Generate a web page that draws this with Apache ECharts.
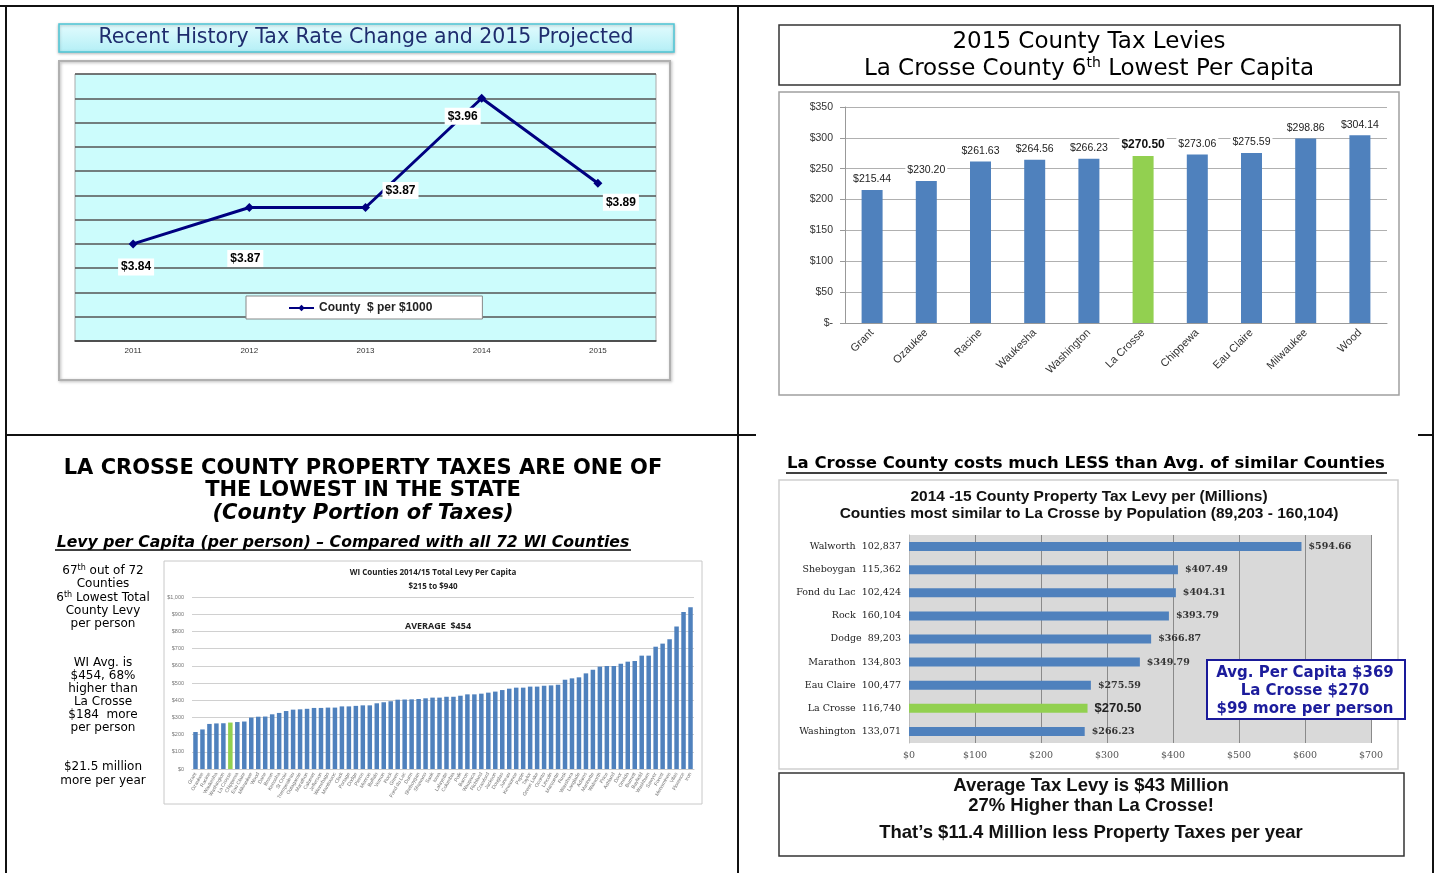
<!DOCTYPE html>
<html>
<head>
<meta charset="utf-8">
<title>La Crosse County tax comparison</title>
<script src="https://cdn.jsdelivr.net/npm/echarts@6/dist/echarts.min.js"></script>
<style>
html, body { margin: 0; padding: 0; background: #fff; }
#main { width: 1439px; height: 873px; }
</style>
</head>
<body>
<div id="main"></div>
<script>
"use strict";

// county $ per $1000, recent history
var rateYears = ["2011", "2012", "2013", "2014", "2015"];
var rateValues = [3.84, 3.87, 3.87, 3.96, 3.89];

// 2015 levies, ten lowest per capita
var lowCounties = ["Grant", "Ozaukee", "Racine", "Waukesha", "Washington", "La Crosse", "Chippewa", "Eau Claire", "Milwaukee", "Wood"];
var lowLevies = [215.44, 230.20, 261.63, 264.56, 266.23, 270.50, 273.06, 275.59, 298.86, 304.14];

// all 72 WI counties, 2014/15 total levy per capita
var wiCounties = ["Grant", "Ozaukee", "Racine", "Waukesha", "Washington", "La Crosse", "Chippewa", "Eau Claire", "Milwaukee", "Wood",
    "Dane", "Brown", "Kenosha", "St Croix", "Trempealeau", "Outagamie", "Marathon", "Calumet", "Jefferson", "Winnebago",
    "Manitowoc", "Clark", "Portage", "Dodge", "Pierce", "Monroe", "Buffalo", "Vernon", "Rock", "Green",
    "Fond du Lac", "Dunn", "Sheboygan", "Shawano", "Sauk", "Iowa", "Lafayette", "Columbia", "Polk", "Barron",
    "Waupaca", "Richland", "Crawford", "Jackson", "Douglas", "Juneau", "Kewaunee", "Pepin", "Taylor", "Green Lake",
    "Oconto", "Lincoln", "Marquette", "Rusk", "Waushara", "Langlade", "Adams", "Marinette", "Walworth", "Price",
    "Ashland", "Door", "Oneida", "Burnett", "Bayfield", "Washburn", "Sawyer", "Forest", "Menominee", "Vilas",
    "Florence", "Iron"];
var wiLevies = [215, 230, 262, 265, 266, 270, 273, 276, 299, 304,
    305, 318, 326, 337, 345, 347, 350, 355, 355, 357,
    357, 364, 364, 367, 370, 370, 382, 388, 394, 403,
    404, 405, 407, 411, 415, 415, 420, 420, 426, 434,
    434, 438, 444, 450, 459, 467, 473, 473, 479, 479,
    484, 486, 490, 519, 527, 533, 556, 577, 595, 599,
    599, 612, 624, 628, 659, 659, 711, 729, 754, 828,
    913, 940];

// counties most similar to La Crosse by population
var similarCounties = ["Walworth", "Sheboygan", "Fond du Lac", "Rock", "Dodge", "Marathon", "Eau Claire", "La Crosse", "Washington"];
var similarPops = ["102,837", "115,362", "102,424", "160,104", "89,203", "134,803", "100,477", "116,740", "133,071"];
var similarLevies = [594.66, 407.49, 404.31, 393.79, 366.87, 349.79, 275.59, 270.50, 266.23];

var BLUE = "#4f81bd";
var GREEN = "#92d050";
var SANS = "Liberation Sans";
var TAHOMA = "DejaVu Sans";
var SERIF = "DejaVu Serif";

function money(v) {
    return "$" + v.toFixed(2);
}

function barData(names, values, hiLabel) {
    return values.map(function (v, i) {
        var item = { value: v, itemStyle: { color: names[i] === "La Crosse" ? GREEN : BLUE } };
        if (names[i] === "La Crosse" && hiLabel) item.label = hiLabel;
        return item;
    });
}

function txt(x, y, text, size, opts) {
    opts = opts || {};
    return {
        type: "text", x: x, y: y, z: opts.z || 20,
        style: {
            text: text,
            fontSize: size,
            fontFamily: opts.family || TAHOMA,
            fontWeight: opts.weight || "normal",
            fontStyle: opts.style || "normal",
            fill: opts.color || "#000",
            align: opts.align || "center",
            verticalAlign: "middle",
            rich: opts.rich
        }
    };
}

function box(x, y, w, h, stroke, lw, fill, z, extra) {
    var s = { fill: fill || "none", stroke: stroke, lineWidth: lw };
    if (extra) for (var k in extra) s[k] = extra[k];
    return { type: "rect", z: z || 1, shape: { x: x, y: y, width: w, height: h }, style: s };
}

function line(x1, y1, x2, y2, color, lw) {
    return { type: "line", z: 30, shape: { x1: x1, y1: y1, x2: x2, y2: y2 }, style: { stroke: color, lineWidth: lw } };
}

var supRich = {
    sup: { fontSize: 8, verticalAlign: "top", padding: [0, 0, 6, 0], fontFamily: TAHOMA }
};
var supRichBig = {
    sup: { fontSize: 14, verticalAlign: "top", padding: [0, 0, 12, 0], fontFamily: TAHOMA }
};

// label offsets for the rate line, relative to each point
var rateOffsets = [[3, 23], [-4, 51], [35, -17], [-19, 18], [23, 19]];

var graphics = [
    // page frame
    line(0, 6, 1434, 6, "#111", 2),
    line(6, 6, 6, 873, "#111", 2),
    line(738, 6, 738, 873, "#111", 2),
    line(6, 435, 756, 435, "#111", 2),
    line(1418, 435, 1434, 435, "#111", 2),
    line(1433, 6, 1433, 873, "#111", 2),

    // top left
    box(59, 24, 615, 28, "#4fc6d6", 1.5, {
        type: "linear", x: 0, y: 0, x2: 0, y2: 1,
        colorStops: [{ offset: 0, color: "#e4fcfe" }, { offset: 1, color: "#b3eff6" }]
    }, 1, { shadowBlur: 3, shadowColor: "rgba(0,0,0,0.25)", shadowOffsetY: 1 }),
    txt(366, 38, "Recent History Tax Rate Change and 2015 Projected", 20.5, { color: "#1f2d6e" }),
    box(59, 61, 611, 319, "#b0b0b0", 2, "none", 1, { shadowBlur: 3, shadowColor: "rgba(0,0,0,0.3)", shadowOffsetX: 1, shadowOffsetY: 1 }),

    // top right
    box(779, 25, 621, 60, "#333", 1.5),
    txt(1089, 42, "2015 County Tax Levies", 23),
    txt(1089, 69, "La Crosse County 6{sup|th} Lowest Per Capita", 23, { rich: supRichBig }),
    box(779, 92, 620, 303, "#a0a0a0", 1.5),

    // bottom left
    txt(363, 469, "LA CROSSE COUNTY PROPERTY TAXES ARE ONE OF", 21, { weight: "bold" }),
    txt(363, 491, "THE LOWEST IN THE STATE", 21, { weight: "bold" }),
    txt(363, 514, "(County Portion of Taxes)", 21, { weight: "bold", style: "italic" }),
    txt(343, 543, "Levy per Capita (per person) \u2013 Compared with all 72 WI Counties", 15.7, { weight: "bold", style: "italic" }),
    line(55, 550, 631, 550, "#000", 1.5),
    txt(103, 571, "67{sup|th} out of 72", 12, { rich: supRich }),
    txt(103, 584, "Counties", 12),
    txt(103, 598, "6{sup|th} Lowest Total", 12, { rich: supRich }),
    txt(103, 611, "County Levy", 12),
    txt(103, 624, "per person", 12),
    txt(103, 663, "WI Avg. is", 12),
    txt(103, 676, "$454, 68%", 12),
    txt(103, 689, "higher than", 12),
    txt(103, 702, "La Crosse", 12),
    txt(103, 715, "$184  more", 12),
    txt(103, 728, "per person", 12),
    txt(103, 767, "$21.5 million", 12),
    txt(103, 781, "more per year", 12),
    box(164, 561, 538, 243, "#c8c8c8", 1),
    txt(433, 573, "WI Counties 2014/15 Total Levy Per Capita", 8, { family: "Open Sans", weight: "bold", color: "#222" }),
    txt(433, 587, "$215 to $940", 8, { family: "Open Sans", weight: "bold", color: "#222" }),
    txt(438, 626, "AVERAGE  $454", 9, { family: "Open Sans", weight: "bold", color: "#222" }),

    // bottom right
    txt(1086, 464, "La Crosse County costs much LESS than Avg. of similar Counties", 16.5, { weight: "bold" }),
    line(786, 473, 1387, 473, "#000", 1.5),
    box(779, 480, 619, 289, "#cfcfcf", 1.5),
    txt(1089, 497, "2014 -15 County Property Tax Levy per (Millions)", 15.5, { family: SANS, weight: "bold", color: "#111" }),
    txt(1089, 514, "Counties most similar to La Crosse by Population (89,203 - 160,104)", 15.5, { family: SANS, weight: "bold", color: "#111" }),
    box(1207, 660, 198, 59, "#1a1a9a", 2, "#fff", 50),
    txt(1305, 673, "Avg. Per Capita $369", 15, { weight: "bold", color: "#1c1c9c", z: 51 }),
    txt(1305, 691, "La Crosse $270", 15, { weight: "bold", color: "#1c1c9c", z: 51 }),
    txt(1305, 709, "$99 more per person", 15, { weight: "bold", color: "#1c1c9c", z: 51 }),
    box(779, 773, 625, 83, "#333", 1.5),
    txt(1091, 786, "Average Tax Levy is $43 Million", 18.5, { family: SANS, weight: "bold", color: "#111" }),
    txt(1091, 806, "27% Higher than La Crosse!", 18.5, { family: SANS, weight: "bold", color: "#111" }),
    txt(1091, 833, "That\u2019s $11.4 Million less Property Taxes per year", 18.5, { family: SANS, weight: "bold", color: "#111" })
];

var chart = echarts.init(document.getElementById("main"), null, { renderer: "canvas" });

chart.setOption({
    backgroundColor: "#fff",
    animation: false,
    textStyle: { fontFamily: SANS },
    graphic: { elements: graphics },
    legend: {
        data: ["County  $ per $1000"],
        left: 246,
        top: 296,
        padding: [6, 50, 5, 42],
        backgroundColor: "#fff",
        borderColor: "#888",
        borderWidth: 1,
        itemWidth: 25,
        itemHeight: 8,
        textStyle: { fontSize: 12, fontWeight: "bold", color: "#222", fontFamily: SANS }
    },
    grid: [
        { left: 75, top: 74, width: 581, height: 267, show: true, backgroundColor: "#ccfcfc", borderColor: "#aaa", borderWidth: 1, outerBoundsMode: "none" },
        { left: 845, top: 107, width: 542, height: 216, outerBoundsMode: "none" },
        { left: 192, top: 597, width: 502, height: 172, outerBoundsMode: "none" },
        { left: 909, top: 535, width: 462, height: 208, show: true, backgroundColor: "#d9d9d9", borderWidth: 0, outerBoundsMode: "none" }
    ],
    xAxis: [
        {
            gridIndex: 0, type: "category", data: rateYears, boundaryGap: true,
            axisLine: { lineStyle: { color: "#444", width: 1.5 } },
            axisTick: { length: 4, lineStyle: { color: "#444" } },
            axisLabel: { fontSize: 8, color: "#333", margin: 6 }
        },
        {
            gridIndex: 1, type: "category", data: lowCounties,
            axisLine: { lineStyle: { color: "#999" } },
            axisTick: { length: 5, lineStyle: { color: "#999" } },
            axisLabel: { rotate: 45, interval: 0, fontSize: 11, color: "#333", margin: 8 }
        },
        {
            gridIndex: 2, type: "category", data: wiCounties,
            axisLine: { lineStyle: { color: "#ccc" } },
            axisTick: { show: false },
            axisLabel: { rotate: 60, interval: 0, fontSize: 5, color: "#777", margin: 4 }
        },
        {
            gridIndex: 3, type: "value", min: 0, max: 700, interval: 100,
            axisLine: { show: false },
            axisTick: { show: false },
            splitLine: { lineStyle: { color: "#8a8a8a", width: 1 } },
            axisLabel: { fontSize: 9.5, color: "#555", fontFamily: SERIF, margin: 8, formatter: function (v) { return "$" + v; } }
        }
    ],
    yAxis: [
        {
            gridIndex: 0, type: "value", min: 3.76, max: 3.98, interval: 0.02,
            axisLabel: { show: false },
            axisLine: { show: false },
            axisTick: { show: false },
            splitLine: { lineStyle: { color: "#555", width: 1.5 } }
        },
        {
            gridIndex: 1, type: "value", min: 0, max: 350, interval: 50,
            axisLine: { show: true, lineStyle: { color: "#999" } },
            axisTick: { show: true, length: 5, lineStyle: { color: "#999" } },
            splitLine: { lineStyle: { color: "#b0b0b0" } },
            axisLabel: { fontSize: 10.5, color: "#333", margin: 12, formatter: function (v) { return v === 0 ? "$-" : "$" + v; } }
        },
        {
            gridIndex: 2, type: "value", min: 0, max: 1000, interval: 100,
            axisLine: { show: false },
            axisTick: { show: false },
            splitLine: { lineStyle: { color: "#d0d0d0" } },
            axisLabel: { fontSize: 5.5, color: "#777", margin: 8, formatter: function (v) { return v === 1000 ? "$1,000" : "$" + v; } }
        },
        {
            gridIndex: 3, type: "category", data: similarCounties, inverse: true,
            axisLine: { lineStyle: { color: "#bbb" } },
            axisTick: { lineStyle: { color: "#bbb" } },
            axisLabel: {
                fontSize: 9.5, color: "#222", fontFamily: SERIF, margin: 8,
                formatter: function (v, i) { return v + "  " + similarPops[i]; }
            }
        }
    ],
    series: [
        {
            name: "County  $ per $1000",
            type: "line",
            xAxisIndex: 0, yAxisIndex: 0,
            data: rateValues.map(function (v, i) {
                return { value: v, label: { offset: rateOffsets[i] } };
            }),
            color: "#000080",
            lineStyle: { color: "#000080", width: 3 },
            symbol: "diamond",
            symbolSize: 9,
            itemStyle: { color: "#000080" },
            label: {
                show: true, position: "inside",
                formatter: function (p) { return money(p.value); },
                fontSize: 12, fontWeight: "bold", color: "#000",
                backgroundColor: "#fff", padding: [3, 3, 2, 3]
            }
        },
        {
            type: "bar",
            xAxisIndex: 1, yAxisIndex: 1,
            barWidth: 21,
            data: barData(lowCounties, lowLevies, { fontSize: 12, fontWeight: "bold", color: "#111" }),
            label: {
                show: true, position: "top", distance: 4,
                formatter: function (p) { return money(p.value); },
                fontSize: 10.5, color: "#222", backgroundColor: "#fff", padding: [1, 2]
            }
        },
        {
            type: "bar",
            xAxisIndex: 2, yAxisIndex: 2,
            barWidth: 4.5,
            data: barData(wiCounties, wiLevies)
        },
        {
            type: "bar",
            xAxisIndex: 3, yAxisIndex: 3,
            barWidth: 9,
            data: barData(similarCounties, similarLevies, { fontSize: 13, fontWeight: "bold", fontFamily: SANS, color: "#222" }),
            label: {
                show: true, position: "right", distance: 7,
                formatter: function (p) { return money(p.value); },
                fontSize: 9.5, fontWeight: "bold", color: "#333", fontFamily: SERIF
            }
        }
    ]
});
</script>
</body>
</html>
